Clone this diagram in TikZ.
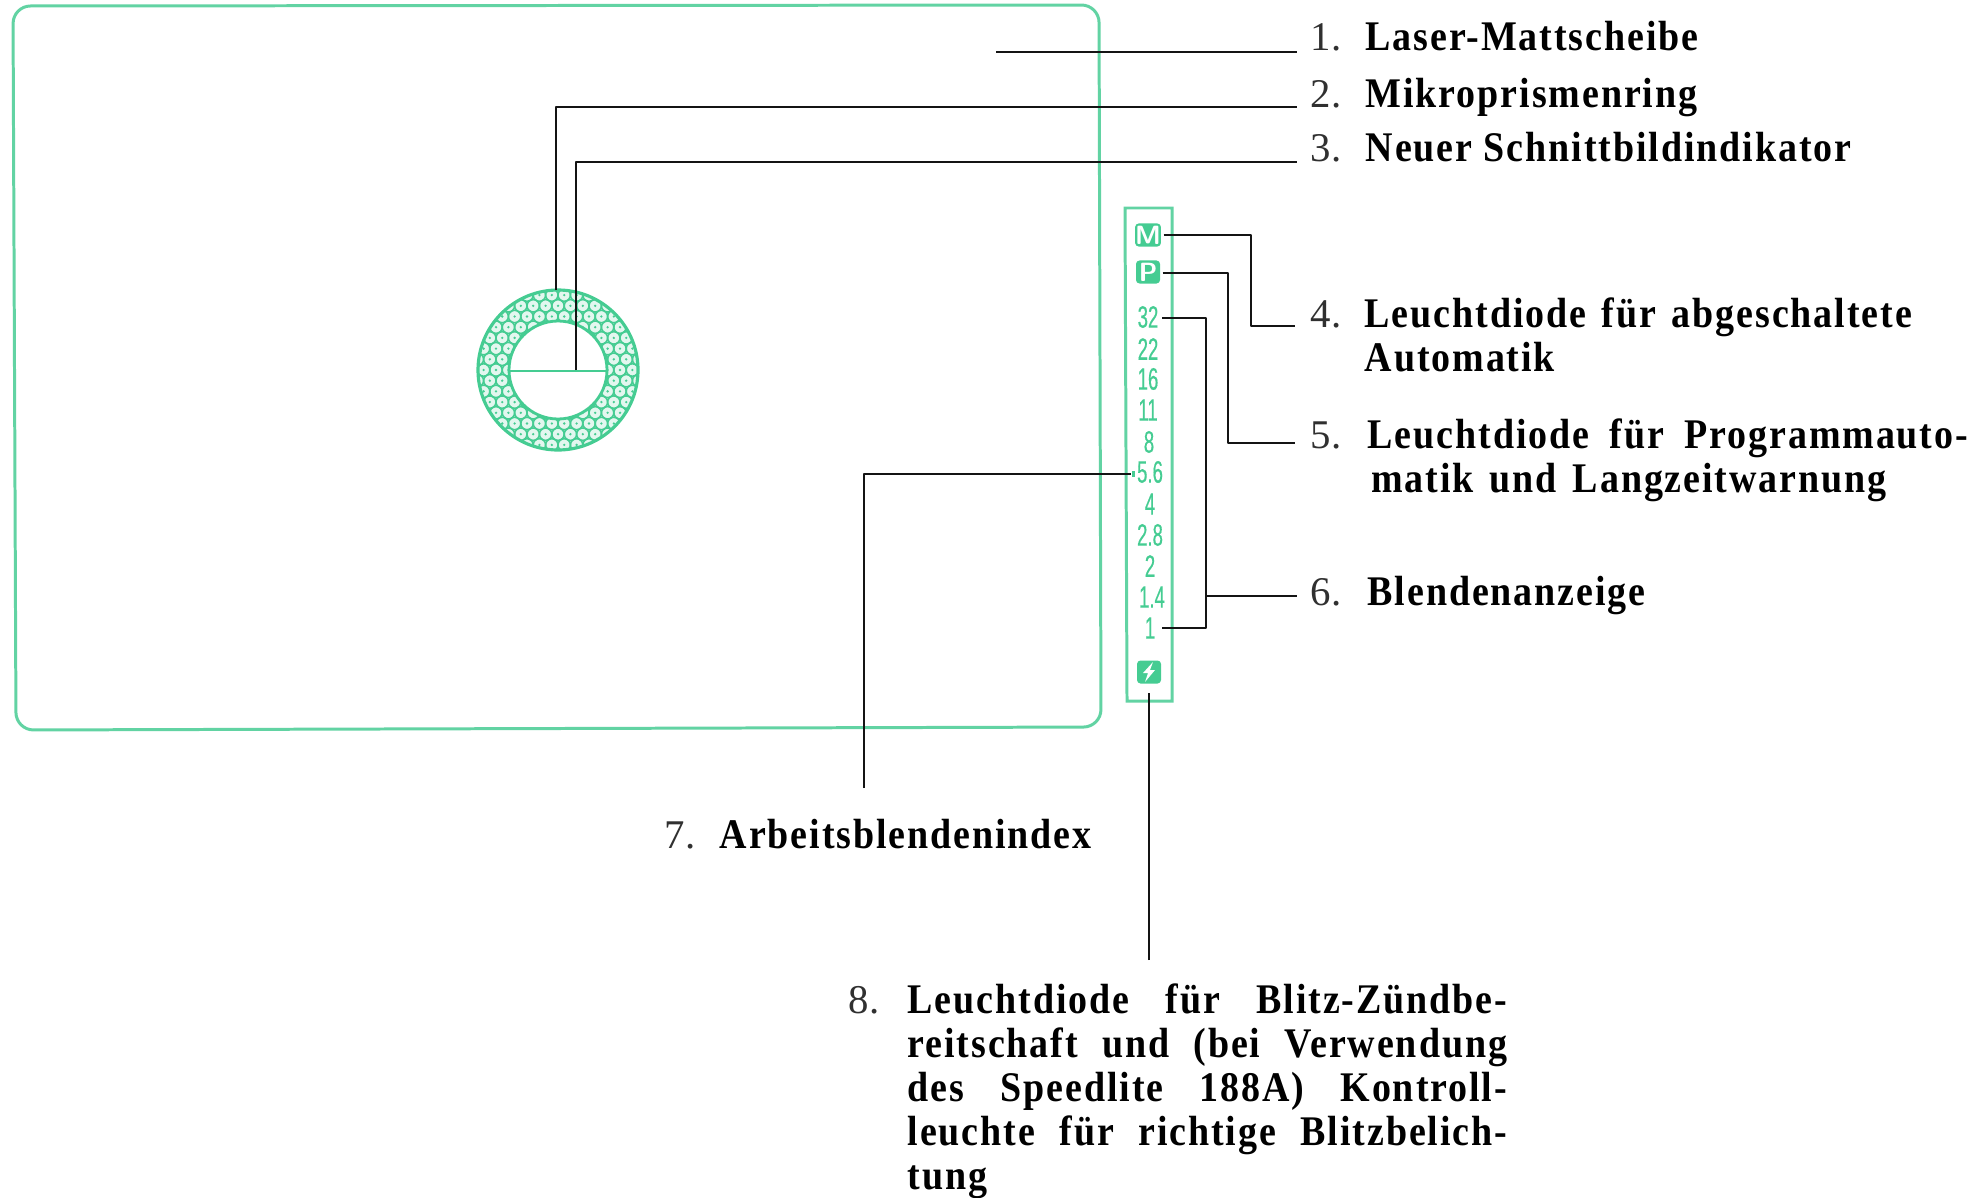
\documentclass[tikz,border=0pt]{standalone}
\usepackage{fontspec}
\setmainfont{Liberation Serif}
\newfontfamily\labelfont[FakeStretch=0.9,LetterSpace=4.5]{Liberation Serif}
\newfontfamily\scalefont[FakeStretch=0.6,FakeBold=0.4]{Liberation Sans}
\usetikzlibrary{positioning, calc}
\definecolor{ledgreen}{HTML}{45CC92}
\definecolor{framegreen}{HTML}{62D3A3}
\definecolor{inkblack}{HTML}{141414}
\definecolor{textgray}{HTML}{303030}
\newcommand{\spreadline}[2]{\makebox[#1][s]{#2}}
\tikzset{
  leader/.style={inkblack, line width=0.7pt, line join=round},
  numlabel/.style={font=\fontsize{11.6}{14}\selectfont, text=textgray, anchor=base west, inner sep=0pt},
  textlabel/.style={font=\fontsize{12}{12.55}\selectfont\labelfont\bfseries, text=black, anchor=base west, inner sep=0pt, align=flush left},
  scalenum/.style={font=\fontsize{8.8}{9}\selectfont\scalefont, text=ledgreen, inner sep=0pt},
  ledbox/.style={fill=ledgreen, rounded corners=1pt, minimum width=0.24cm, minimum height=0.23cm, inner sep=0pt, text=white, font=\fontsize{7.5}{8}\selectfont\sffamily\bfseries}
}

\begin{document}
\begin{tikzpicture}[x=0.01cm, y=-0.01cm]

\useasboundingbox (0,0) rectangle (1980,1197);

% Focusing screen frame
\draw[framegreen, line width=0.85pt, rounded corners=5pt] (13,6) -- (1099,5) -- (1101,727) -- (16,730) -- cycle;

% Ring with hexagon pattern
\begin{scope}
  \clip (558,370) circle (80);
  \fill[ledgreen!15] (558,370) circle (80);
  \foreach \row in {-8,...,8} {
    \foreach \col in {-8,...,8} {
      \coordinate (hexc) at ({558+12.4*\col+6.2*mod(\row+20,2)},{370+10.7*\row});
      \draw[ledgreen, line width=0.45pt] (hexc) circle (6.2);
      \fill[ledgreen] (hexc) circle (1.3);
    }
  }
\end{scope}
\fill[white] (558,370) circle (49);
\draw[ledgreen, line width=0.9pt] (558,370) circle (80);
\draw[ledgreen, line width=0.8pt] (558,370) circle (49);
\draw[ledgreen, line width=0.7pt] (509,371) -- (607,371);
\coordinate (ringtop) at (556,290);
\coordinate (ringline) at (576,370);

% Indicator strip
\draw[framegreen, line width=0.85pt] (1125,208) -- (1172,208) -- (1172,701) -- (1127,701) -- cycle;

\node[ledbox] (ledm) at (1148,235) {M};
\node[ledbox] (ledp) at (1148,272) {P};
\node[ledbox] (ledf) at (1149,672) {};
\fill[white] ($(ledf)+(4,-10)$) -- ($(ledf)+(-6,1)$) -- ($(ledf)+(-1,1)$) -- ($(ledf)+(-4,10)$) -- ($(ledf)+(6,-2)$) -- ($(ledf)+(1,-2)$) -- cycle;

\node[scalenum] (f32) at (1148,317) {32};
\node[scalenum] (f22) at (1148,349) {22};
\node[scalenum] (f16) at (1148,379) {16};
\node[scalenum] (f11) at (1148,410) {11};
\node[scalenum] (f8) at (1149,442) {8};
\node[scalenum] (f56) at (1150,472) {5.6};
\node[scalenum] (f4) at (1150,504) {4};
\node[scalenum] (f28) at (1150,535) {2.8};
\node[scalenum] (f2) at (1150,566) {2};
\node[scalenum] (f14) at (1152,597) {1.4};
\node[scalenum] (f1) at (1150,628) {1};
\fill[ledgreen] (1132,471) rectangle (1135,477);

% Labels
\node[numlabel] (num1) at (1310,51) {1.};
\node[textlabel] (txt1) at (1365,51) {Laser-Mattscheibe};
\node[numlabel] (num2) at (1310,107) {2.};
\node[textlabel] (txt2) at (1365,107) {Mikroprismenring};
\node[numlabel] (num3) at (1310,162) {3.};
\node[textlabel] (txt3) at (1365,162) {Neuer Schnittbildindikator};

\node[numlabel] (num4) at (1310,327) {4.};
\node[textlabel, text width=5.47cm] (txt4) at (1364,327) {\spreadline{5.47cm}{Leuchtdiode für abgeschaltete}\\Automatik};
\node[numlabel] (num5) at (1310,448) {5.};
\node[textlabel, text width=6cm] (txt5) at (1367,448) {\spreadline{6cm}{Leuchtdiode für Programmauto-}\\\hspace*{1pt}\spreadline{5.15cm}{matik und Langzeitwarnung}};
\node[numlabel] (num6) at (1310,605) {6.};
\node[textlabel] (txt6) at (1367,605) {Blendenanzeige};

\node[numlabel] (num7) at (664,848) {7.};
\node[textlabel] (txt7) at (719,848) {Arbeitsblendenindex};

\node[numlabel] (num8) at (848,1013) {8.};
\node[textlabel, text width=5.99cm] (txt8) at (907,1013) {\spreadline{5.99cm}{Leuchtdiode für Blitz-Zündbe-}\\\spreadline{5.99cm}{reitschaft und (bei Verwendung}\\\spreadline{5.99cm}{des Speedlite 188A) Kontroll-}\\\spreadline{5.99cm}{leuchte für richtige Blitzbelich-}\\tung};

% Leaders
\coordinate (start1) at (996,52);
\coordinate (end1) at (1297,52);
\coordinate (end2) at (1297,107);
\coordinate (end3) at (1297,162);
\coordinate (end4) at (1295,326);
\coordinate (knee4) at (1251,326);
\coordinate (end5) at (1295,443);
\coordinate (knee5) at (1228,443);
\coordinate (end6) at (1297,596);
\coordinate (join6) at (1206,596);
\coordinate (knee6) at (1206,628);
\coordinate (start7) at (864,788);
\coordinate (start8) at (1149,960);

\draw[leader] (start1) -- (end1);
\draw[leader] (ringtop) |- (end2);
\draw[leader] (ringline) |- (end3);
\draw[leader] ($(ledm.east)+(2,0)$) -| (knee4) -- (end4);
\draw[leader] ($(ledp.east)+(2,1)$) -| (knee5) -- (end5);
\draw[leader] ($(f32.east)+(3,1)$) -| (knee6) -- ($(f1.east)+(6,0)$);
\draw[leader] (join6) -- (end6);
\draw[leader] (start7) |- (1131,474);
\draw[leader] (start8) -- (1149,693);

\end{tikzpicture}
\end{document}
